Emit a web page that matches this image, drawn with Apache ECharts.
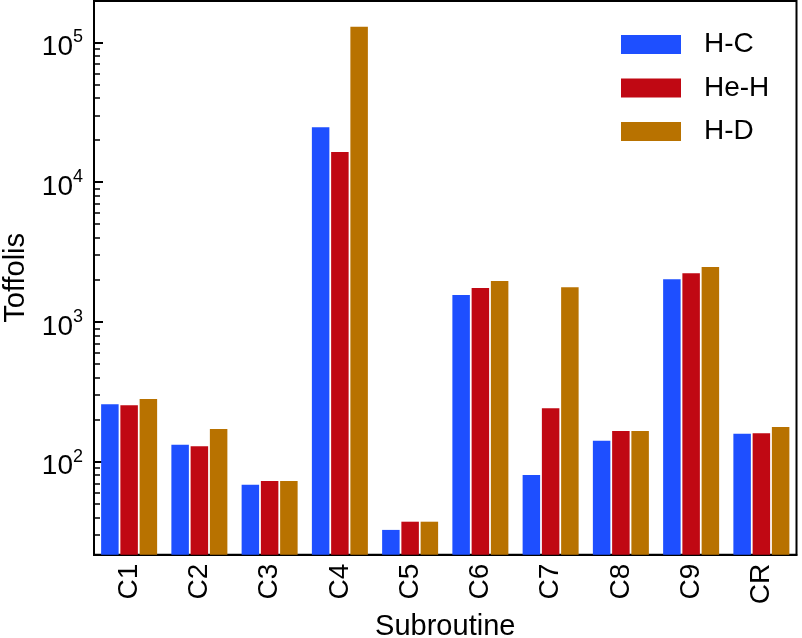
<!DOCTYPE html>
<html>
<head>
<meta charset="utf-8">
<script src="https://cdn.jsdelivr.net/npm/echarts@6/dist/echarts.min.js"></script>
<style>html,body{margin:0;padding:0;background:#fff}#c{width:802px;height:638px}</style>
</head>
<body>
<div id="c"></div>
<script>
const categories = ['C1','C2','C3','C4','C5','C6','C7','C8','C9','CR'];
const seriesNames = ['H-C','He-H','H-D'];
const hcValues  = [257, 132, 68.5, 24650, 32.5, 1557, 80.3, 141, 2018, 158.6];
const hehValues = [253, 129, 72.8, 16400, 37.2, 1749, 241, 166, 2228, 160];
const hdValues  = [281, 171, 72.8, 129000, 37.2, 1962, 1767, 166, 2470, 177];
const majorTicks = [100, 1000, 10000, 100000];
const minorTicks = [30,40,50,60,70,80,90,200,300,400,500,600,700,800,900,2000,3000,4000,5000,6000,7000,8000,9000,20000,30000,40000,50000,60000,70000,80000,90000];
const yMin = 21.6, yMax = 197500;
const colors = ['#1e4fff','#c00813','#b87200'];
const FONT = "'Liberation Sans', Arial, sans-serif";

const chart = echarts.init(document.getElementById('c'), null, {renderer:'canvas'});
const allValues = [hcValues, hehValues, hdValues];
chart.setOption({
  animation: false,
  backgroundColor: '#fff',
  textStyle: {fontFamily: FONT},
  grid: {left: 94, right: 5.5, top: 1, bottom: 83.3, containLabel: false, outerBoundsMode: 'none',
         show: true, borderColor: '#000', borderWidth: 2, backgroundColor: 'transparent'},
  legend: {
    orient: 'vertical', left: 616, top: 25.5, itemWidth: 60, itemHeight: 19, itemGap: 15.5,
    icon: 'rect', data: seriesNames,
    textStyle: {fontFamily: FONT, fontSize: 28, color: '#000', lineHeight: 28, padding: [0,0,0,18]}
  },
  xAxis: {
    type: 'category', data: categories,
    axisLine: {show: true, lineStyle: {color: '#000', width: 2}},
    axisTick: {show: true, inside: true, alignWithLabel: true, length: 10, interval: 0, lineStyle: {color: '#000', width: 2}},
    axisLabel: {rotate: 90, margin: 9, fontSize: 28, color: '#000', fontFamily: FONT, interval: 0},
    name: 'Subroutine', nameLocation: 'middle', nameGap: 57,
    nameTextStyle: {fontSize: 29, color: '#000', fontFamily: FONT},
    splitLine: {show: false}
  },
  yAxis: [{
    type: 'log', logBase: 10, min: yMin, max: yMax,
    axisLine: {show: true, lineStyle: {color: '#000', width: 2}},
    axisTick: {show: true, inside: true, length: 9, customValues: majorTicks, lineStyle: {color: '#000', width: 2}},
    axisLabel: {
      customValues: majorTicks, margin: 11, color: '#000', fontFamily: FONT,
      formatter: function (v) { return '{b|10}{s|' + Math.round(Math.log10(v)) + '}'; },
      rich: {
        b: {fontSize: 28, lineHeight: 28, padding: [10,0,0,0], fontFamily: FONT, color: '#000'},
        s: {fontSize: 18, lineHeight: 18, verticalAlign: 'top', fontFamily: FONT, color: '#000'}
      }
    },
    splitLine: {show: false},
    name: 'Toffolis', nameLocation: 'middle', nameRotate: 90, nameGap: 62,
    nameTextStyle: {fontSize: 29, color: '#000', fontFamily: FONT}
  }, {
    type: 'log', logBase: 10, min: yMin, max: yMax, position: 'left', offset: 0,
    axisLine: {show: false},
    axisTick: {show: true, inside: true, length: 6, customValues: minorTicks, lineStyle: {color: '#000', width: 1.5}},
    axisLabel: {show: false},
    splitLine: {show: false}
  }],
  series: seriesNames.map((n, i) => ({
    name: n, type: 'bar', yAxisIndex: 0, data: allValues[i],
    barWidth: 17.5, barGap: '10%',
    itemStyle: {color: colors[i]}
  }))
});
</script>
</body>
</html>
